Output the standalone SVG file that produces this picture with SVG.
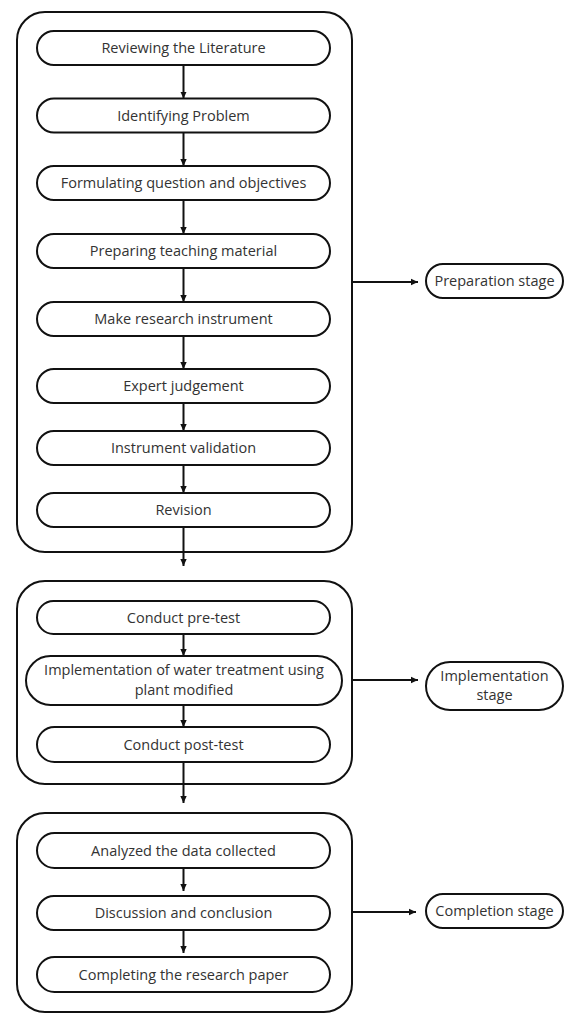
<svg xmlns="http://www.w3.org/2000/svg" width="565" height="1014" viewBox="0 0 565 1014">
<defs>
<marker id="ah" markerUnits="userSpaceOnUse" markerWidth="8" markerHeight="8" refX="7" refY="4" orient="auto">
<path d="M0,0.8 L7,4 L0,7.2 z" fill="#111"/>
</marker>
<style>
.outer{fill:none;stroke:#111;stroke-width:2}
.pill{fill:#fff;stroke:#111;stroke-width:2}
.t{font-family:"Open Sans","Liberation Sans",sans-serif;font-size:14.5px;fill:#333;text-anchor:middle}
.c{stroke:#111;stroke-width:2;fill:none;marker-end:url(#ah)}
</style>
</defs>
<rect width="565" height="1014" fill="#fff"/>
<g id="stage-boxes">
<rect id="box-preparation" class="outer" x="17" y="12" width="335" height="540" rx="28"/>
<rect id="box-implementation" class="outer" x="17" y="581" width="335" height="203" rx="28"/>
<rect id="box-completion" class="outer" x="17" y="813" width="335" height="199" rx="28"/>
</g>
<g id="connectors">
<line class="c" x1="183.5" y1="65" x2="183.5" y2="98.5"/>
<line class="c" x1="183.5" y1="132.5" x2="183.5" y2="166"/>
<line class="c" x1="183.5" y1="200" x2="183.5" y2="234"/>
<line class="c" x1="183.5" y1="268" x2="183.5" y2="302"/>
<line class="c" x1="183.5" y1="336" x2="183.5" y2="369"/>
<line class="c" x1="183.5" y1="403" x2="183.5" y2="431"/>
<line class="c" x1="183.5" y1="465" x2="183.5" y2="493"/>
<line class="c" x1="183.5" y1="527" x2="183.5" y2="566"/>
<line class="c" x1="183.5" y1="634" x2="183.5" y2="656"/>
<line class="c" x1="183.5" y1="705" x2="183.5" y2="727"/>
<line class="c" x1="183.5" y1="762" x2="183.5" y2="803"/>
<line class="c" x1="183.5" y1="868" x2="183.5" y2="891"/>
<line class="c" x1="183.5" y1="930" x2="183.5" y2="953"/>
<line class="c" x1="352" y1="282" x2="418" y2="282"/>
<line class="c" x1="352" y1="680" x2="418" y2="680"/>
<line class="c" x1="352" y1="912" x2="416" y2="912"/>
</g>
<g id="n1"><rect class="pill" x="37" y="31" width="293" height="34" rx="17"/><text class="t" x="183.5" y="53">Reviewing the Literature</text></g>
<g id="n2"><rect class="pill" x="37" y="98.5" width="293" height="34" rx="17"/><text class="t" x="183.5" y="120.5">Identifying Problem</text></g>
<g id="n3"><rect class="pill" x="37" y="166" width="293" height="34" rx="17"/><text class="t" x="183.5" y="188">Formulating question and objectives</text></g>
<g id="n4"><rect class="pill" x="37" y="234" width="293" height="34" rx="17"/><text class="t" x="183.5" y="256">Preparing teaching material</text></g>
<g id="n5"><rect class="pill" x="37" y="302" width="293" height="34" rx="17"/><text class="t" x="183.5" y="324">Make research instrument</text></g>
<g id="n6"><rect class="pill" x="37" y="369" width="293" height="34" rx="17"/><text class="t" x="183.5" y="391">Expert judgement</text></g>
<g id="n7"><rect class="pill" x="37" y="431" width="293" height="34" rx="17"/><text class="t" x="183.5" y="453">Instrument validation</text></g>
<g id="n8"><rect class="pill" x="37" y="493" width="293" height="34" rx="17"/><text class="t" x="183.5" y="515">Revision</text></g>
<g id="n9"><rect class="pill" x="37" y="601" width="293" height="33" rx="16.5"/><text class="t" x="183.5" y="622.5">Conduct pre-test</text></g>
<g id="n10"><rect class="pill" x="26" y="656" width="316" height="49" rx="24.5"/><text class="t" x="184" y="675">Implementation of water treatment using</text><text class="t" x="184" y="695">plant modified</text></g>
<g id="n11"><rect class="pill" x="37" y="727" width="293" height="35" rx="17.5"/><text class="t" x="183.5" y="749.5">Conduct post-test</text></g>
<g id="n12"><rect class="pill" x="37" y="833" width="293" height="35" rx="17.5"/><text class="t" x="183.5" y="855.5">Analyzed the data collected</text></g>
<g id="n13"><rect class="pill" x="37" y="896" width="293" height="34" rx="17"/><text class="t" x="183.5" y="918">Discussion and conclusion</text></g>
<g id="n14"><rect class="pill" x="37" y="957" width="293" height="35" rx="17.5"/><text class="t" x="183.5" y="979.5">Completing the research paper</text></g>
<g id="s1"><rect class="pill" x="426" y="264" width="137" height="34" rx="17"/><text class="t" x="494.5" y="286">Preparation stage</text></g>
<g id="s2"><rect class="pill" x="426" y="662" width="137" height="48" rx="24"/><text class="t" x="494.5" y="681">Implementation</text><text class="t" x="494.5" y="700">stage</text></g>
<g id="s3"><rect class="pill" x="426" y="894" width="137" height="34" rx="17"/><text class="t" x="494.5" y="916">Completion stage</text></g>
</svg>
